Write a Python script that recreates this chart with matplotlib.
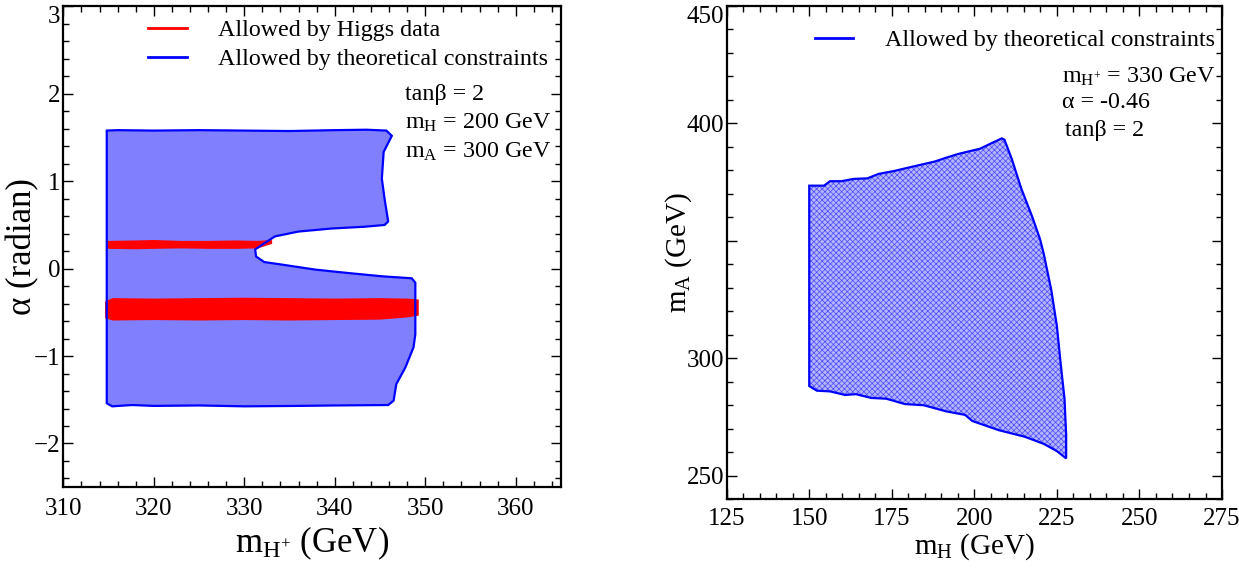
import numpy as np
import matplotlib
matplotlib.use("Agg")
import matplotlib.pyplot as plt
from matplotlib.lines import Line2D
from matplotlib.ticker import MultipleLocator

plt.rcParams['font.family'] = ['Liberation Serif', 'DejaVu Serif']
plt.rcParams['mathtext.fontset'] = 'custom'
plt.rcParams['mathtext.rm'] = 'Liberation Serif'
plt.rcParams['mathtext.it'] = 'Liberation Serif:italic'
plt.rcParams['hatch.linewidth'] = 0.5

# --- left panel: (m_H+, alpha) region allowed by theory (tanb=2, mH=200, mA=300)
mhp_theory = [314.8, 316.0, 320.0, 325.0, 330.0, 335.0, 340.0, 343.5, 345.7, 346.3,
              345.4, 345.2, 345.5, 345.9, 345.5, 343.3, 339.7, 336.0, 333.4, 332.2,
              331.2, 331.3, 332.2, 334.2, 337.8, 341.5, 345.2, 348.5, 348.9, 348.9,
              348.7, 347.8, 346.8, 346.5, 345.9, 340.0, 336.0, 330.0, 325.0, 320.0,
              317.6, 315.4, 314.8]
alpha_theory = [1.58, 1.585, 1.58, 1.585, 1.58, 1.575, 1.585, 1.59, 1.58, 1.52,
                1.336, 1.03, 0.80, 0.54, 0.50, 0.48, 0.46, 0.425, 0.37, 0.29,
                0.22, 0.14, 0.076, 0.046, -0.01, -0.05, -0.087, -0.11, -0.16, -0.75,
                -0.90, -1.13, -1.32, -1.51, -1.56, -1.565, -1.57, -1.575, -1.565, -1.57,
                -1.56, -1.575, -1.54]

# Higgs-data allowed bands (upper and lower edges along m_H+)
band1_mhp = [315.0, 318.0, 320.0, 323.0, 326.0, 329.0, 331.5, 333.0]
band1_top = [0.31, 0.315, 0.32, 0.31, 0.31, 0.315, 0.31, 0.32]
band1_bot = [0.235, 0.23, 0.235, 0.24, 0.235, 0.235, 0.24, 0.29]

band2_mhp = [314.7, 315.5, 320.0, 325.0, 330.0, 335.0, 340.0, 345.0, 348.0, 349.2]
band2_top = [-0.38, -0.345, -0.35, -0.345, -0.34, -0.345, -0.35, -0.345, -0.35, -0.36]
band2_bot = [-0.56, -0.585, -0.58, -0.585, -0.58, -0.585, -0.58, -0.575, -0.55, -0.53]

# --- right panel: (m_H, m_A) region allowed by theory (mH+=330, alpha=-0.46, tanb=2)
mh_theory = [150.0, 150.0, 152.3, 156.3, 160.8, 164.2, 168.8, 173.3, 179.0, 184.7,
             191.5, 197.2, 199.4, 207.4, 215.3, 221.0, 225.0, 227.8, 227.8, 227.3,
             226.1, 225.0, 223.3, 221.0, 219.9, 217.6, 214.2, 211.4, 209.1, 208.3,
             205.1, 201.7, 197.2, 194.9, 191.5, 188.1, 183.5, 180.1, 175.6, 171.0,
             167.6, 163.6, 159.7, 156.3, 154.5]
ma_theory = [373.4, 288.2, 286.2, 285.9, 284.4, 284.7, 283.1, 282.8, 280.5, 280.0,
             277.4, 275.9, 273.3, 269.4, 266.6, 263.6, 260.5, 257.4, 267.4, 282.8,
             298.2, 313.6, 329.0, 344.5, 350.6, 359.9, 372.2, 384.5, 393.0, 393.5,
             391.4, 389.1, 387.6, 386.8, 385.3, 383.7, 382.2, 381.1, 379.6, 378.4,
             376.5, 376.3, 375.3, 375.3, 373.4]

left_yticks = [-2, -1, 0, 1, 2, 3]
right_yticks = [250, 300, 350, 400, 450]
right_ylabels = ['250', '300', '', '400', '450']

fig = plt.figure(figsize=(12.39, 5.69), dpi=100)
ax1 = fig.add_axes([0.0511, 0.1438, 0.4017, 0.8448])
ax2 = fig.add_axes([0.5865, 0.1225, 0.3998, 0.8677])

ax1.fill(mhp_theory, alpha_theory, facecolor='#8080ff', edgecolor='none', zorder=1)
ax1.fill(mhp_theory, alpha_theory, facecolor='none', edgecolor='#0000ff', lw=1.6, zorder=3)
for xs, top, bot in [(band1_mhp, band1_top, band1_bot), (band2_mhp, band2_top, band2_bot)]:
    ax1.fill(list(xs) + list(xs)[::-1], list(top) + list(bot)[::-1],
             facecolor='#ff0000', edgecolor='#ff0000', lw=1.0, zorder=2)

ax2.fill(mh_theory, ma_theory, facecolor='#b4b4ff', edgecolor='#4a4aff', hatch='xxxxxx',
         lw=0, zorder=1)
ax2.fill(mh_theory, ma_theory, facecolor='none', edgecolor='#0000ff', lw=1.6, zorder=3)

ax1.set_xlim(310, 365)
ax1.set_ylim(-2.5, 3)
ax1.xaxis.set_major_locator(MultipleLocator(10))
ax1.xaxis.set_minor_locator(MultipleLocator(2))
ax1.set_yticks(left_yticks)
ax1.set_yticklabels(['\u22122', '\u22121', '0', '1', '2', '3'])
ax1.yaxis.set_minor_locator(MultipleLocator(0.2))

ax2.set_xlim(125, 275)
ax2.set_ylim(240, 450)
ax2.xaxis.set_major_locator(MultipleLocator(25))
ax2.xaxis.set_minor_locator(MultipleLocator(5))
ax2.set_yticks(right_yticks)
ax2.set_yticklabels(right_ylabels)
ax2.yaxis.set_minor_locator(MultipleLocator(10))

for ax in (ax1, ax2):
    ax.tick_params(which='both', direction='in', top=True, right=True, labelsize=18)
    ax.tick_params(which='major', length=7, width=1.0)
    ax.tick_params(which='minor', length=4, width=1.0)
    ax.tick_params(axis='y', which='major', pad=2)
    for sp in ax.spines.values():
        sp.set_linewidth(1.6)
ax1.tick_params(axis='x', which='major', pad=8)
ax2.tick_params(axis='x', which='major', pad=6)

# keep the topmost y labels inside the figure
ax1.get_yticklabels()[-1].set_verticalalignment('top')
ax2.get_yticklabels()[-1].set_verticalalignment('top')

ax1.set_xlabel(r'm$_{\mathrm{H}^{+}}$ (GeV)', fontsize=25, labelpad=3)
ax1.set_ylabel('α (radian)', fontsize=25)
ax1.yaxis.set_label_coords(-0.049, 0.5)
ax2.set_xlabel(r'm$_{\mathrm{H}}$ (GeV)', fontsize=21, labelpad=1)
ax2.set_ylabel(r'm$_{\mathrm{A}}$ (GeV)', fontsize=21)
ax2.yaxis.set_label_coords(-0.066, 0.5)

h_red = Line2D([], [], color='#ff0000', lw=2)
h_blue = Line2D([], [], color='#0000ff', lw=2)
ax1.legend([h_red, h_blue], ['Allowed by Higgs data', 'Allowed by theoretical constraints'],
           loc='center left', bbox_to_anchor=(0.171, 0.920), frameon=False, fontsize=17.3,
           borderpad=0, borderaxespad=0, handlelength=1.6, handletextpad=1.3,
           labelspacing=0.3)
ax2.legend([h_blue], ['Allowed by theoretical constraints'],
           loc='center left', bbox_to_anchor=(0.178, 0.930), frameon=False, fontsize=17.3,
           borderpad=0, borderaxespad=0, handlelength=1.6, handletextpad=1.3)

for y, s in [(0.816, 'tanβ = 2'), (0.757, r'm$_{\mathrm{H}}$ = 200 GeV'),
             (0.698, r'm$_{\mathrm{A}}$ = 300 GeV')]:
    ax1.text(0.6866, y, s, transform=ax1.transAxes, fontsize=17.3, va='center', ha='left')

for x, y, s in [(0.676, 0.856, r'm$_{\mathrm{H}^{+}}$ = 330 GeV'), (0.676, 0.803, 'α = -0.46'),
                (0.683, 0.747, 'tanβ = 2')]:
    ax2.text(x, y, s, transform=ax2.transAxes, fontsize=17.3, va='center', ha='left')

fig.savefig('out.png', dpi=100)
